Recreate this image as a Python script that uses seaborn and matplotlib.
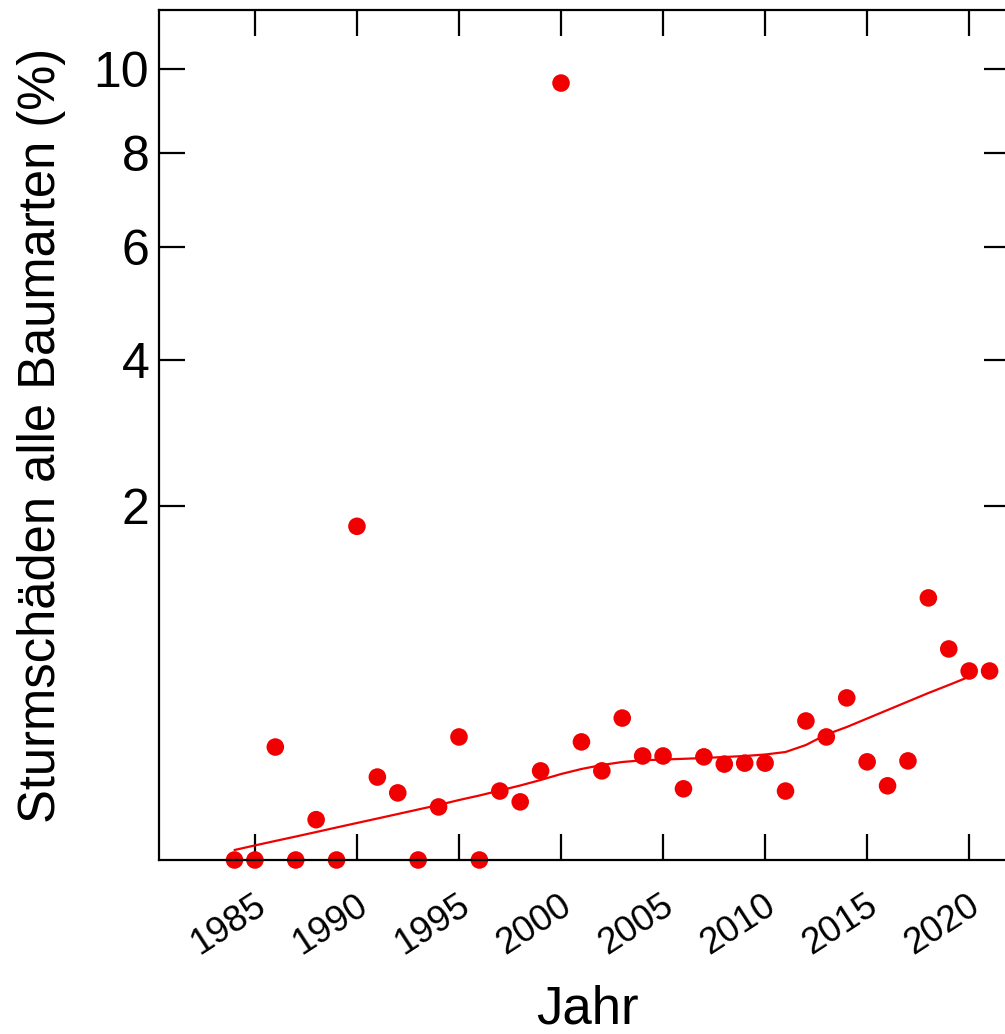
import numpy as np
import pandas as pd
import matplotlib
matplotlib.use("Agg")
import matplotlib.pyplot as plt
from matplotlib.transforms import ScaledTranslation
import seaborn as sns

# Annual storm damage, all tree species (%)
years = list(range(1984, 2022))
damage = [0.0, 0.0, 0.204, 0.0, 0.026, 0.0, 1.78, 0.110, 0.072, 0.0,
          0.045, 0.242, 0.0, 0.076, 0.054, 0.127, 9.65, 0.223, 0.127, 0.322,
          0.173, 0.173, 0.081, 0.170, 0.147, 0.150, 0.150, 0.076, 0.309, 0.242,
          0.420, 0.154, 0.088, 0.157, 1.098, 0.712, 0.571, 0.571]

# Smoothed trend
trend_years = list(range(1984, 2021))
trend = [0.0016, 0.0034, 0.0058, 0.0088, 0.0125, 0.0169, 0.0219, 0.0275, 0.0338, 0.0408,
         0.0484, 0.0575, 0.0665, 0.0772, 0.0887, 0.1023, 0.1182, 0.1324, 0.1442, 0.1535,
         0.1589, 0.1614, 0.1637, 0.1663, 0.1696, 0.1729, 0.1779, 0.1864, 0.2114, 0.2517,
         0.2827, 0.3200, 0.3596, 0.4015, 0.4457, 0.4895, 0.5370]

y_ticks = [2, 4, 6, 8, 10]
x_ticks = [1985, 1990, 1995, 2000, 2005, 2010, 2015, 2020]

df = pd.DataFrame({"Jahr": years, "Schaden": damage})
df_trend = pd.DataFrame({"Jahr": trend_years, "Trend": trend})

sns.set_theme(style="white")
plt.rcParams["font.family"] = ["Liberation Sans", "DejaVu Sans"]
plt.rcParams["text.color"] = "black"
plt.rcParams["axes.labelcolor"] = "black"
plt.rcParams["xtick.color"] = "black"
plt.rcParams["ytick.color"] = "black"

RED = "#f00000"

fig = plt.figure(figsize=(10.05, 10.34), dpi=100)
W, H = 1005, 1034
ax = fig.add_axes([159 / W, (H - 860) / H, (1010 - 159) / W, (860 - 10) / H])

ax.set_yscale("function", functions=(lambda v: np.sqrt(np.clip(v, 0, None)),
                                      lambda v: np.square(v)))

sns.lineplot(data=df_trend, x="Jahr", y="Trend", ax=ax, color=RED, lw=1.6,
             zorder=2)
sns.scatterplot(data=df, x="Jahr", y="Schaden", ax=ax, color=RED, s=160,
                edgecolor="none", linewidth=0, zorder=1, clip_on=False)

ax.set_xlim(1980.3, 2022.0)
ax.set_ylim(0, 11.55)
ax.set_yticks(y_ticks)
ax.set_yticklabels([str(t) for t in y_ticks])
ax.set_xticks(x_ticks)
ax.set_xticklabels([str(t) for t in x_ticks])

for sp in ax.spines.values():
    sp.set_linewidth(1.6)
    sp.set_color("black")

ax.tick_params(axis="both", which="major", direction="in", length=19,
               width=1.6, color="black", labelcolor="black", top=True,
               right=True, bottom=True, left=True)
ax.tick_params(axis="y", labelsize=36, pad=7)
ax.tick_params(axis="x", labelsize=26.5, pad=20)
shift = ScaledTranslation(17 / 100, 0, fig.dpi_scale_trans)
for lab in ax.get_xticklabels():
    lab.set_rotation(33)
    lab.set_ha("right")
    lab.set_va("top")
    lab.set_transform(lab.get_transform() + shift)

ax.set_xlabel("Jahr", fontsize=38)
ax.xaxis.set_label_coords((587 - 159) / 851, (860 - 984) / 850)
ax.set_ylabel("Sturmschäden alle Baumarten (%)", fontsize=36.5, labelpad=20)
ax.grid(False)

fig.savefig("out.png", dpi=100)
